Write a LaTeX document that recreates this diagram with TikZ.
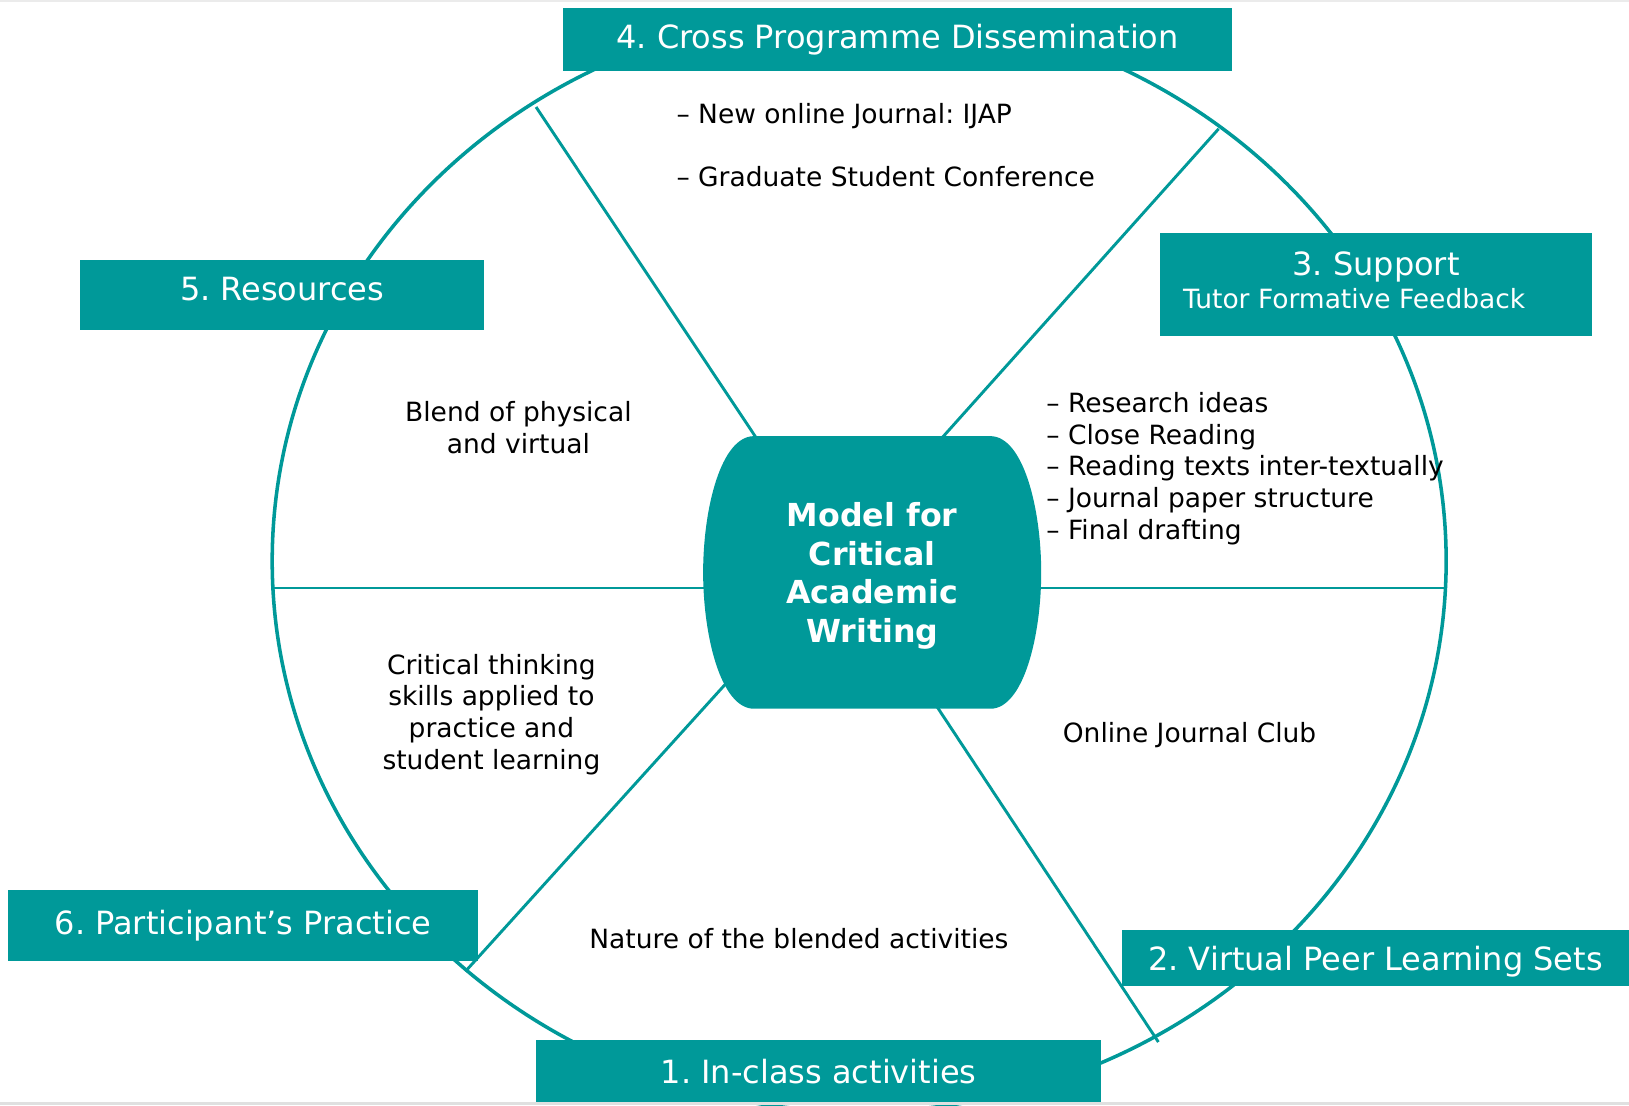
\documentclass[tikz,border=0pt]{standalone}
\usepackage{fontspec}
\setmainfont{DejaVu Sans}
\usepackage{xcolor}
\usepackage{tikz}
\usetikzlibrary{backgrounds}

\definecolor{wheelteal}{RGB}{0,153,153}
\frenchspacing

\begin{document}
\begin{tikzpicture}[
    x=1pt, y=-1pt,
    stage/.style={rectangle, fill=wheelteal, text=white, inner sep=0pt, align=center, font=\fontsize{30.8}{37}\selectfont},
    note/.style={inner sep=0pt, align=center, font=\fontsize{25.5}{30.5}\selectfont},
    hub/.style={inner sep=0pt, minimum width=325pt, minimum height=262pt, align=center, text=white, font=\bfseries\fontsize{30.5}{37}\selectfont},
    spoke/.style={draw=wheelteal, line width=2.8pt, shorten <=-12pt},
    rim/.style={draw=wheelteal, line width=3.4pt}
]
\useasboundingbox (0,0) rectangle (1568,1064);

% where the spokes meet the rim
\coordinate (rimNW) at (516,103);
\coordinate (rimNE) at (1173,124);
\coordinate (rimW) at (262,566);
\coordinate (rimE) at (1393,566);
\coordinate (rimSW) at (448,935);
\coordinate (rimSE) at (1115,1003);

\node[hub, text depth=0pt] (model) at (839.5,551) {Model for\\Critical\\Academic\\Writing};

\begin{scope}[on background layer]
  \draw[rim] (827,540) ellipse [x radius=565pt, y radius=530pt];
  \draw[spoke] ([xshift=50pt]model.north west) -- (rimNW);
  \draw[spoke] ([xshift=-94pt]model.north east) -- (rimNE);
  \draw[spoke] ([yshift=-15pt]model.west) -- (rimW);
  \draw[spoke] ([yshift=-15pt]model.east) -- (rimE);
  \draw[spoke, shorten <=-45pt] (model.south west) -- (rimSW);
  \draw[spoke] ([xshift=-99pt]model.south east) -- (rimSE);
  % barrel behind the title
  \fill[wheelteal] ([xshift=49pt]model.north west) -- ([xshift=-49pt]model.north east)
    .. controls +(32,0) and +(0,-61) .. (model.east)
    .. controls +(0,61) and +(32,0) .. ([xshift=-49pt]model.south east)
    -- ([xshift=49pt]model.south west)
    .. controls +(-32,0) and +(0,61) .. (model.west)
    .. controls +(0,-61) and +(-32,0) .. ([xshift=49pt]model.north west) -- cycle;
\end{scope}

% the six stages round the rim
\node[stage, minimum width=644pt, minimum height=60pt] (dissem) at (864,38) {4. Cross Programme Dissemination};
\node[stage, minimum width=415pt, minimum height=99pt, text depth=8pt] (support) at (1324.5,273.5) {3. Support\\[-5pt]{\fontsize{25.5}{30.5}\selectfont Tutor Formative Feedback\hspace*{42pt}}};
\node[stage, minimum width=389pt, minimum height=68pt, text depth=12pt] (resources) at (271.5,284) {5. Resources};
\node[stage, minimum width=452pt, minimum height=68pt] (practice) at (234,891) {6. Participant’s Practice};
\node[stage, minimum width=488pt, minimum height=54pt, text depth=0pt] (peer) at (1324,922) {2. Virtual Peer Learning Sets};
\node[stage, minimum width=544pt, minimum height=60pt] (inclass) at (788,1031) {1. In-class activities};

% notes in the segments
\node[note, anchor=west, align=left] (journal) at (651,139.5) {– New online Journal: IJAP\\[30.5pt]– Graduate Student Conference};
\node[note] (blend) at (499,411.5) {Blend of physical\\and virtual};
\node[note, anchor=west, align=left] (skills) at (1007,451) {– Research ideas\\– Close Reading\\– Reading texts inter-textually\\– Journal paper structure\\– Final drafting};
\node[note] (club) at (1145,708) {Online Journal Club};
\node[note] (thinking) at (473,687.5) {Critical thinking\\skills applied to\\practice and\\student learning};
\node[note] (nature) at (769,903) {Nature of the blended activities};

% page edges
\fill[black!8] (0,0) rectangle (1568,1.5);
\fill[black!12] (0,1061) rectangle (1568,1064);
\end{tikzpicture}
\end{document}
